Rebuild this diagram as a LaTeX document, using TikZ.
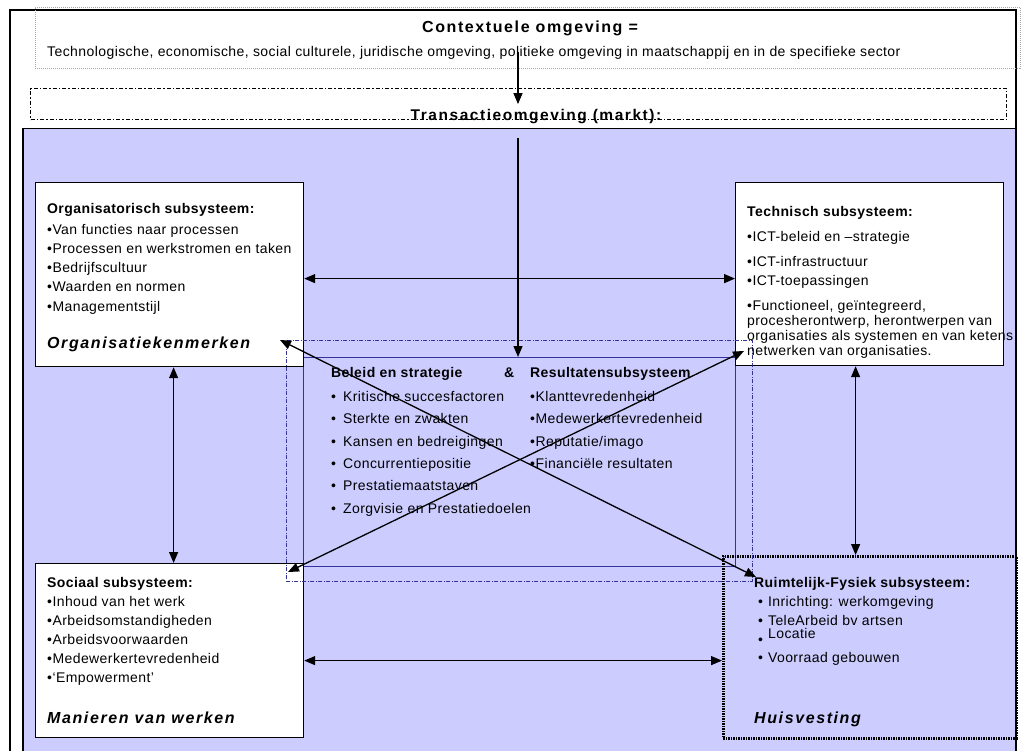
\documentclass[tikz,border=0pt]{standalone}
\usepackage{fontspec}
\setmainfont{Liberation Sans}[LetterSpace=3]
\newfontfamily\ruimfont{Liberation Sans}[LetterSpace=10]
\usetikzlibrary{arrows.meta}

\definecolor{lila}{HTML}{CCCCFF}
\definecolor{paars}{HTML}{333399}

\begin{document}
\begin{tikzpicture}[x=1pt, y=-1pt, >={Triangle[length=11pt, width=9pt]},
        blok/.style={draw, line width=1.2pt, fill=white, anchor=north west, inner sep=0pt},
        tekst/.style={anchor=north west, inner sep=0pt, align=left, font=\fontsize{14}{19}\selectfont},
        kenmerk/.style={anchor=base west, inner sep=0pt, font=\ruimfont\fontsize{16}{19}\selectfont\bfseries\itshape},
        pijl/.style={<->, line width=1.3pt}]
        \useasboundingbox (0,0) rectangle (1027,751);
        \draw[line width=1.2pt] (10,760) -- (10,10) -- (1016,10) -- (1016,760);

        \node[draw=gray!70, dash pattern=on 1pt off 1pt, anchor=north west, inner sep=0pt, minimum width=985pt, minimum height=61pt] (context) at (35,7) {};
        \node[anchor=base, inner sep=0pt, font=\ruimfont\fontsize{16}{19}\selectfont\bfseries] (contexttitel) at (530,33) {Contextuele omgeving =};
        \node[anchor=base west, inner sep=0pt, font=\fontsize{14}{16}\selectfont] (contexttekst) at (47,57) {Technologische, economische, social culturele, juridische omgeving, politieke omgeving in maatschappij en in de specifieke sector};

        \node[draw, line width=1.2pt, dash pattern=on 4pt off 2pt on 1.5pt off 2pt, anchor=north west, inner sep=0pt, minimum width=976pt, minimum height=31pt] (markt) at (30,88) {};
        \node[anchor=base, inner sep=0pt, font=\ruimfont\fontsize{15.5}{19}\selectfont\bfseries] (markttitel) at (536,121) {Transactieomgeving (markt):};

        \node[draw, line width=1.5pt, fill=lila, anchor=north west, inner sep=0pt, minimum width=993pt, minimum height=640pt] (veld) at (22,128) {};
        \node[draw=paars, line width=1pt, fill=lila, anchor=north west, inner sep=0pt, minimum width=432pt, minimum height=209pt] (centraal) at (303,357) {};

        \node[blok, minimum width=268pt, minimum height=184pt] (org) at (35,182) {};
        \node[blok, minimum width=268pt, minimum height=183pt] (tech) at (735,182) {};
        \node[blok, minimum width=268pt, minimum height=174pt] (sociaal) at (35,563) {};
        \node[blok, fill=none, line width=2.6pt, dash pattern=on 1.5pt off 1pt, minimum width=293pt, minimum height=182pt] (huis) at (722,555) {};

        \node[draw=paars, dash pattern=on 4pt off 1.5pt on 1pt off 1.5pt, line width=0.8pt, anchor=north west, inner sep=0pt, minimum width=466pt, minimum height=241pt] (kader) at (286,340) {};

        \node[tekst] (orgtekst) at (47,203) {\textbf{Organisatorisch subsysteem:}\\[2pt]
                •Van functies naar processen\\ •Processen en werkstromen en taken\\ •Bedrijfscultuur\\ •Waarden en normen\\[1pt] •Managementstijl};
        \node[kenmerk] (orgkenmerk) at (47,348) {Organisatiekenmerken};

        \node[tekst] (techtekst) at (747,206) {\textbf{Technisch subsysteem:}\\[6pt] •ICT-beleid en –strategie\\[6pt]
                •ICT-infrastructuur\\ •ICT-toepassingen\\[6pt] •Functioneel, geïntegreerd,\\[-4pt] procesherontwerp, herontwerpen van\\[-4pt]
                organisaties als systemen en van ketens\\[-4pt] netwerken van organisaties.};

        \node[tekst, font=\fontsize{14}{22.4}\selectfont] (beleid) at (331,367) {\textbf{Beleid en strategie}\\[1.6pt]
                •\hspace{7pt}Kritische succesfactoren\\ •\hspace{7pt}Sterkte en zwakten\\ •\hspace{7pt}Kansen en bedreigingen\\
                •\hspace{7pt}Concurrentiepositie\\ •\hspace{7pt}Prestatiemaatstaven\\ •\hspace{7pt}Zorgvisie en Prestatiedoelen};
        \node[anchor=base west, inner sep=0pt, font=\fontsize{14}{19}\selectfont\bfseries] (en) at (504,377) {\&};
        \node[tekst, font=\fontsize{14}{22.4}\selectfont] (resultaten) at (530,367) {\textbf{Resultatensubsysteem}\\[1.6pt]
                •Klanttevredenheid\\ •Medewerkertevredenheid\\ •Reputatie/imago\\ •Financiële resultaten};

        \node[tekst] (sociaaltekst) at (47,577) {\textbf{Sociaal subsysteem:}\\ •Inhoud van het werk\\ •Arbeidsomstandigheden\\
                •Arbeidsvoorwaarden\\ •Medewerkertevredenheid\\ •‘Empowerment’};
        \node[kenmerk] (sociaalkenmerk) at (47,723) {Manieren van werken};

        \node[tekst] (huistekst) at (754,577) {\textbf{Ruimtelijk-Fysiek subsysteem:}\\ \hspace{4pt}•\hspace{5pt}Inrichting: werkomgeving\\
                \hspace{4pt}•\hspace{5pt}TeleArbeid bv artsen\\[-6pt] \hspace{4pt}\raisebox{-6pt}{•}\hspace{5pt}Locatie\\[5pt]
                \hspace{4pt}•\hspace{5pt}Voorraad gebouwen};
        \node[kenmerk] (huiskenmerk) at (754,723) {Huisvesting};

        \coordinate (bron) at (518,52);
        \coordinate (marktuit) at (518,138);
        \coordinate (orgpunt) at (280,340);
        \coordinate (huispunt) at (756,577);
        \coordinate (sociaalpunt) at (288,572);
        \coordinate (techpunt) at (744,351);

        \draw[->, line width=1.3pt] (bron) -- (bron |- markt.center);
        \draw[->, line width=1.3pt] (marktuit) -- (marktuit |- centraal.north);
        \draw[pijl] ([yshift=-4pt]org.east) -- ([yshift=-4pt]org.east -| tech.west);
        \draw[pijl] ([xshift=4pt]org.south) -- ([xshift=4pt]org.south |- sociaal.north);
        \draw[pijl] ([xshift=-14pt]tech.south) -- ([xshift=-14pt]tech.south |- huis.north);
        \draw[pijl] ([yshift=-10pt]sociaal.east) -- ([yshift=-10pt]sociaal.east -| huis.west);
        \draw[pijl] (orgpunt) -- (huispunt);
        \draw[pijl] (sociaalpunt) -- (techpunt);
\end{tikzpicture}
\end{document}
